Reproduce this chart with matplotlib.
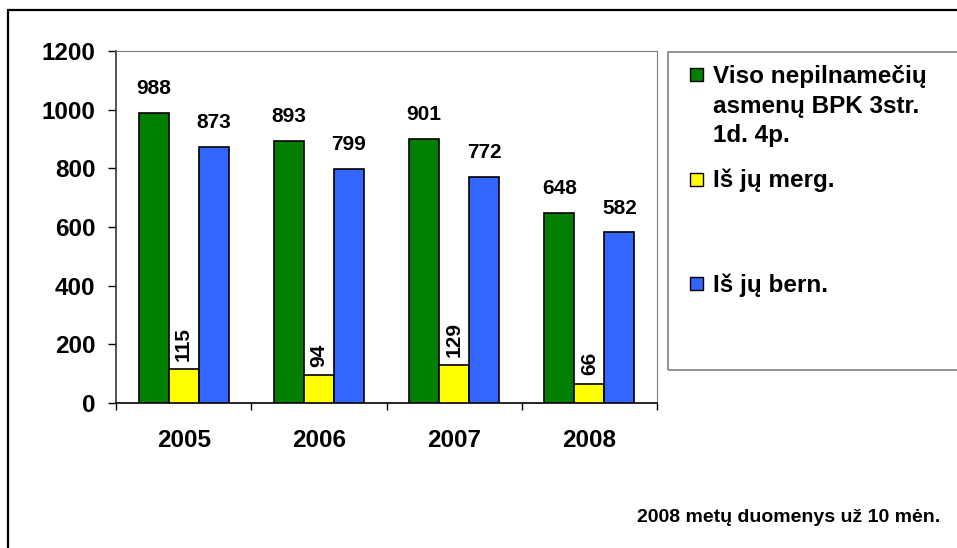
import matplotlib
matplotlib.use("Agg")
import matplotlib.pyplot as plt
from matplotlib.patches import Rectangle
import numpy as np

plt.rcParams['font.family'] = ['Liberation Sans', 'DejaVu Sans']
plt.rcParams['font.weight'] = 'bold'

years = ['2005', '2006', '2007', '2008']
total = [988, 893, 901, 648]
girls = [115, 94, 129, 66]
boys = [873, 799, 772, 582]
series_names = ['Viso nepilnamečių\nasmenų BPK 3str.\n1d. 4p.', 'Iš jų merg.', 'Iš jų bern.']
colors = ['#007F00', '#FFFF00', '#3366FF']
yticks = [0, 200, 400, 600, 800, 1000, 1200]
footnote = '2008 metų duomenys už 10 mėn.'

W, H = 957, 548
fig = plt.figure(figsize=(W / 100, H / 100), dpi=100)

def fx(px):
    return px / W

def fy(py):
    return 1 - py / H

# outer border
fig.patches.append(Rectangle((fx(8), fy(560)), fx(980) - fx(8), fy(10) - fy(560),
                             transform=fig.transFigure, fill=False, edgecolor='black', lw=1.6))

ax = fig.add_axes([fx(116), fy(403), fx(657) - fx(116), fy(51) - fy(403)])
x = np.arange(len(years))
w = 0.222
data = [total, girls, boys]
offsets = [-w, 0, w]
for vals, off, col in zip(data, offsets, colors):
    ax.bar(x + off, vals, width=w, color=col, edgecolor='black', linewidth=1.2, zorder=3)

for xi, v in zip(x, total):
    ax.annotate(str(v), (xi - w, v), xytext=(0, 13.5), textcoords='offset points',
                ha='center', va='baseline', fontsize=15, fontweight='bold')
for xi, v in zip(x, boys):
    ax.annotate(str(v), (xi + w, v), xytext=(0, 13.5), textcoords='offset points',
                ha='center', va='baseline', fontsize=15, fontweight='bold')
for xi, v in zip(x, girls):
    ax.annotate(str(v), (xi, v), xytext=(0, 6), textcoords='offset points',
                ha='center', va='bottom', rotation=90, fontsize=15, fontweight='bold')

ax.set_xlim(-0.5, 3.5)
ax.set_ylim(0, 1200)
ax.set_yticks(yticks)
ax.set_yticklabels([str(t) for t in yticks], fontsize=17.5, fontweight='bold')
ax.tick_params(axis='y', direction='out', length=5.8, width=1.0, pad=9, color='black')
ax.set_xticks(x)
ax.set_xticklabels(years, fontsize=17.5, fontweight='bold')
ax.tick_params(axis='x', which='major', length=0, pad=19)
ax.set_xticks(np.arange(-0.5, 4.0, 1.0), minor=True)
ax.tick_params(axis='x', which='minor', direction='out', length=5, width=1.0, color='black')

ax.spines['left'].set_color('#333333')
ax.spines['bottom'].set_color('black')
ax.spines['bottom'].set_linewidth(1.2)
ax.spines['top'].set_color('#808080')
ax.spines['right'].set_color('#808080')
ax.spines['left'].set_linewidth(1.2)

# legend
fig.patches.append(Rectangle((fx(668), fy(370)), fx(980) - fx(668), fy(52) - fy(370),
                             transform=fig.transFigure, fill=False, edgecolor='#808080', lw=1.2))
marker_tops = [68, 173, 277]
first_baselines = [83, 187, 292]
for name, col, mt, bl in zip(series_names, colors, marker_tops, first_baselines):
    fig.patches.append(Rectangle((fx(690), fy(mt + 13)), fx(703) - fx(690), fy(mt) - fy(mt + 13),
                                 transform=fig.transFigure, facecolor=col, edgecolor='black', lw=1.0))
    for i, line in enumerate(name.split('\n')):
        fig.text(fx(713), fy(bl + 29.5 * i), line, ha='left', va='baseline',
                 fontsize=17.5, fontweight='bold')

fig.text(fx(940), fy(522), footnote, ha='right', va='baseline', fontsize=14, fontweight='bold')

fig.savefig('out.png', dpi=100)
